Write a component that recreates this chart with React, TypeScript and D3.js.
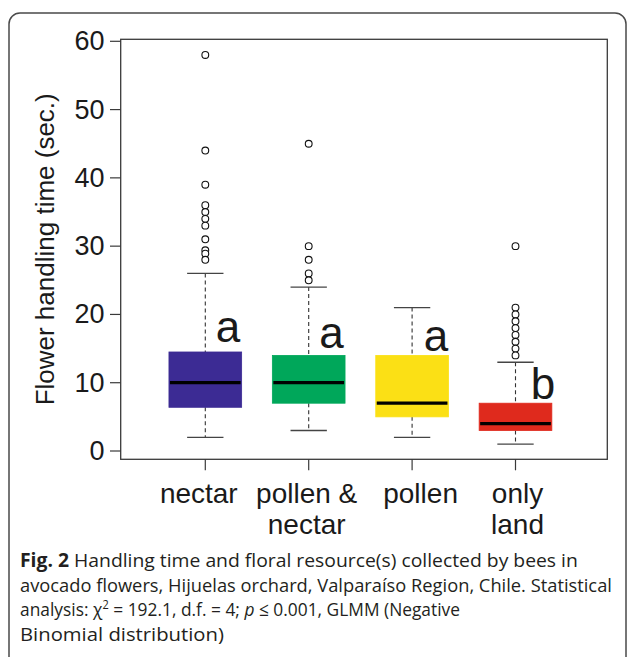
import React, { useLayoutEffect, useRef, useState } from "react";
import * as d3 from "d3";

const categories = ["nectar", "pollen & nectar", "pollen", "only land"];
const labelLines = [["nectar"], ["pollen &", "nectar"], ["pollen"], ["only", "land"]];
const lowerWhisker = [2, 3, 2, 1];
const q1 = [6.4, 7, 5, 3];
const medians = [10, 10, 7, 4];
const q3 = [14.5, 14, 14, 7];
const upperWhisker = [26, 24, 21, 13];
const outliers = [
  [58, 44, 39, 36, 35, 34, 33, 31, 29.4, 28.9, 28],
  [45, 30, 28, 26, 25],
  [],
  [30, 21, 20, 19, 18, 17, 16, 15, 14],
];
const boxColors = ["#3c2b94", "#00a75a", "#fbe015", "#df2a1d"];
const sigLetters = ["a", "a", "a", "b"];
const sigLetterY = [16, 15.1, 14.7, 7.6];
const sigLetterDx = [0.1, 0.102, 0.113, 0.148];
const yTicks = [0, 10, 20, 30, 40, 50, 60];
const yTitle = "Flower handling time (sec.)";

const labelShift = [-6.5, -2, 8.5, 2];

const FONT = "'Liberation Sans', Arial, Helvetica, sans-serif";
const CAP_FONT = "'Open Sans', 'Noto Sans', sans-serif";
const capTargets = [558, 592, 440, 204];

export default function App() {
  const W = 627;
  const H = 657;
  const frame = { left: 120.7, right: 607.3, top: 39.3, bottom: 459.3 };
  const y = d3.scaleLinear().domain([0, 60]).range([451, 41.3]);
  const x = d3.scalePoint<string>().domain(categories).range([205.3, 515.5]);
  const step = x.step();
  const boxW = step * 0.703;
  const capW = boxW / 2;

  const refs = [
    useRef<SVGTextElement>(null),
    useRef<SVGTextElement>(null),
    useRef<SVGTextElement>(null),
    useRef<SVGTextElement>(null),
  ];
  const [scales, setScales] = useState([0.9, 0.9, 0.9, 0.9]);
  useLayoutEffect(() => {
    const s = refs.map((r, i) => {
      if (!r.current) return 0.9;
      const w = r.current.getBBox().width;
      return w > 0 ? capTargets[i] / w : 0.9;
    });
    setScales(s);
  }, []);

  const capY = [567, 592, 616, 641];

  return (
    <svg
      width={W}
      height={H}
      style={{ position: "absolute", left: 0, top: 0, background: "#fff" }}
      fontFamily={FONT}
    >
      <rect x={0} y={0} width={W} height={H} fill="#fff" />
      <rect x={9} y={13} width={617} height={700} rx={11} ry={11} fill="none" stroke="#4a4a4a" strokeWidth={1.5} />

      <rect
        x={frame.left}
        y={frame.top}
        width={frame.right - frame.left}
        height={frame.bottom - frame.top}
        fill="none"
        stroke="#3a3a3a"
        strokeWidth={1.3}
      />

      {yTicks.map((t) => (
        <g key={t}>
          <line x1={110} x2={frame.left} y1={y(t)} y2={y(t)} stroke="#3a3a3a" strokeWidth={1.2} />
          <text x={104.5} y={y(t)} textAnchor="end" dominantBaseline="central" fontSize={27} fill="#1a1a1a">
            {t}
          </text>
        </g>
      ))}
      <text
        transform={`translate(53.5, ${(frame.top + frame.bottom) / 2}) rotate(-90)`}
        textAnchor="middle"
        fontSize={26}
        fill="#1a1a1a"
      >
        {yTitle}
      </text>

      {categories.map((c, i) => (
        <g key={c}>
          <line x1={x(c)} x2={x(c)} y1={frame.bottom} y2={frame.bottom + 11} stroke="#3a3a3a" strokeWidth={1.2} />
          {labelLines[i].map((ln, j) => (
            <text
              key={j}
              x={(x(c) as number) + labelShift[i]}
              y={503 + j * 31}
              textAnchor="middle"
              fontSize={28}
              fill="#1a1a1a"
            >
              {ln}
            </text>
          ))}
        </g>
      ))}

      {categories.map((c, i) => {
        const cx = x(c) as number;
        return (
          <g key={c}>
            <line x1={cx} x2={cx} y1={y(upperWhisker[i])} y2={y(q3[i])} stroke="#333" strokeWidth={1.1} strokeDasharray="4,3" />
            <line x1={cx} x2={cx} y1={y(q1[i])} y2={y(lowerWhisker[i])} stroke="#333" strokeWidth={1.1} strokeDasharray="4,3" />
            <line x1={cx - capW / 2} x2={cx + capW / 2} y1={y(upperWhisker[i])} y2={y(upperWhisker[i])} stroke="#444" strokeWidth={1.3} />
            <line x1={cx - capW / 2} x2={cx + capW / 2} y1={y(lowerWhisker[i])} y2={y(lowerWhisker[i])} stroke="#444" strokeWidth={1.3} />
            <rect
              x={cx - boxW / 2}
              y={y(q3[i])}
              width={boxW}
              height={y(q1[i]) - y(q3[i])}
              fill={boxColors[i]}
              stroke={boxColors[i]}
              strokeWidth={0.8}
            />
            <line x1={cx - boxW / 2 + 1} x2={cx + boxW / 2 - 1} y1={y(medians[i])} y2={y(medians[i])} stroke="#000" strokeWidth={3.3} />
            {outliers[i].map((v, k) => (
              <circle key={k} cx={cx} cy={y(v)} r={3.4} fill="#fff" stroke="#111" strokeWidth={1.1} />
            ))}
            <text x={step * sigLetterDx[i] + cx} y={y(sigLetterY[i])} fontSize={44} fill="#1a1a1a">
              {sigLetters[i]}
            </text>
          </g>
        );
      })}

      <g fontFamily={CAP_FONT} fontSize={19} fill="#231f20">
        <g transform={`translate(20,${capY[0]}) scale(${scales[0]},1)`}>
          <text x={0} y={0} ref={refs[0]}>
            <tspan fontWeight="bold">Fig. 2</tspan> Handling time and floral resource(s) collected by bees in
          </text>
        </g>
        <g transform={`translate(20,${capY[1]}) scale(${scales[1]},1)`}>
          <text x={0} y={0} ref={refs[1]}>
            avocado flowers, Hijuelas orchard, Valparaíso Region, Chile. Statistical
          </text>
        </g>
        <g transform={`translate(20,${capY[2]}) scale(${scales[2]},1)`}>
          <text x={0} y={0} ref={refs[2]}>
            analysis: χ<tspan dy={-7} fontSize={12}>2</tspan>
            <tspan dy={7}> = 192.1, d.f. = 4; </tspan>
            <tspan fontStyle="italic">p</tspan> ≤ 0.001, GLMM (Negative
          </text>
        </g>
        <g transform={`translate(20,${capY[3]}) scale(${scales[3]},1)`}>
          <text x={0} y={0} ref={refs[3]}>Binomial distribution)</text>
        </g>
      </g>
    </svg>
  );
}
